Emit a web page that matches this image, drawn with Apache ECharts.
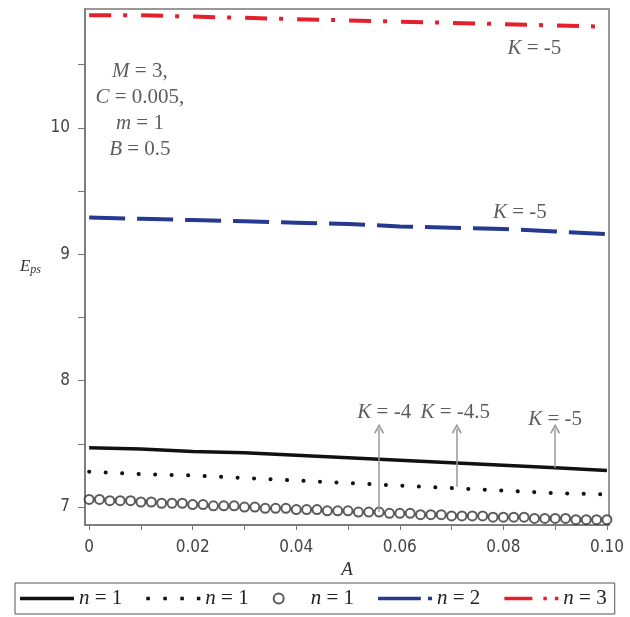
<!DOCTYPE html>
<html>
<head>
<meta charset="utf-8">
<script src="https://cdn.jsdelivr.net/npm/echarts@6/dist/echarts.min.js"></script>
<style>
html, body { margin: 0; padding: 0; background: #fff; }
#chart { width: 630px; height: 617px; }
</style>
</head>
<body>
<div id="chart"></div>
<script>
// A values for the line curves
var aValues = [0, 0.01, 0.02, 0.03, 0.04, 0.05, 0.06, 0.07, 0.08, 0.09, 0.10];
var epsSolid = [7.47, 7.46, 7.44, 7.43, 7.41, 7.39, 7.37, 7.35, 7.33, 7.31, 7.29];   // n=1, K=-4
var epsDotted = [7.28, 7.26, 7.25, 7.23, 7.21, 7.19, 7.17, 7.15, 7.13, 7.11, 7.10];  // n=1, K=-4.5
var epsN2 = [9.29, 9.28, 9.27, 9.26, 9.25, 9.24, 9.22, 9.21, 9.20, 9.18, 9.16];
var epsN3 = [10.89, 10.89, 10.88, 10.87, 10.86, 10.85, 10.84, 10.83, 10.82, 10.81, 10.80];

// circle series (n=1, K=-5), plotted more densely
var circleA = [0, 0.002, 0.004, 0.006, 0.008, 0.010, 0.012, 0.014, 0.016, 0.018,
  0.020, 0.022, 0.024, 0.026, 0.028, 0.030, 0.032, 0.034, 0.036, 0.038,
  0.040, 0.042, 0.044, 0.046, 0.048, 0.050, 0.052, 0.054, 0.056, 0.058,
  0.060, 0.062, 0.064, 0.066, 0.068, 0.070, 0.072, 0.074, 0.076, 0.078,
  0.080, 0.082, 0.084, 0.086, 0.088, 0.090, 0.092, 0.094, 0.096, 0.098, 0.100];
var circleEps = [7.06, 7.06, 7.05, 7.05, 7.05, 7.04, 7.04, 7.03, 7.03, 7.03,
  7.02, 7.02, 7.01, 7.01, 7.01, 7.00, 7.00, 6.99, 6.99, 6.99,
  6.98, 6.98, 6.98, 6.97, 6.97, 6.97, 6.96, 6.96, 6.96, 6.95,
  6.95, 6.95, 6.94, 6.94, 6.94, 6.93, 6.93, 6.93, 6.93, 6.92,
  6.92, 6.92, 6.92, 6.91, 6.91, 6.91, 6.91, 6.90, 6.90, 6.90, 6.90];

var xLabelValues = [0, 0.02, 0.04, 0.06, 0.08, 0.10];
var xTickValues = [0, 0.01, 0.02, 0.03, 0.04, 0.05, 0.06, 0.07, 0.08, 0.09, 0.10];
var yLabelValues = [7, 8, 9, 10];
var yTickValues = [7, 7.5, 8, 8.5, 9, 9.5, 10, 10.5];

// arrows: [A, from, to]
var arrows = [[0.056, 6.96, 7.62], [0.071, 7.16, 7.62], [0.090, 7.31, 7.62]];
// text notes: [A, Eps, text]
var notes = [
  [0.0098, 10.14, '{i|M} = 3,\n{i|C} = 0.005,\n{i|m} = 1\n{i|B} = 0.5'],
  [0.0570, 7.75, '{i|K} = -4'],
  [0.0707, 7.75, '{i|K} = -4.5'],
  [0.0900, 7.69, '{i|K} = -5'],
  [0.0832, 9.33, '{i|K} = -5'],
  [0.0860, 10.63, '{i|K} = -5']
];

var legendText = {
  s1: '{i|n} = 1', s2: '{i|n} = 1', s3: '{i|n} = 1', s4: '{i|n} = 2', s5: '{i|n} = 3'
};
var legendIcons = {
  s1: 'path://M0,0h54v3.5h-54z',
  s2: 'path://M0,0h3.5v3.5h-3.5z M17,0h3.5v3.5h-3.5z M34,0h3.5v3.5h-3.5z M50.5,0h3.5v3.5h-3.5z',
  s3: 'emptyCircle',
  s4: 'path://M0,0h42v3.5h-42z M49,0h4v3.5h-4z',
  s5: 'path://M0,0h28v3.5h-28z M39,0h3.5v3.5h-3.5z M50.5,0h3.5v3.5h-3.5z'
};

function pairs(xs, ys) {
  return xs.map(function (x, i) { return [x, ys[i]]; });
}

var serifFont = 'Liberation Serif';
var tickFont = '"Liberation Sans Narrow", "DejaVu Sans Condensed", sans-serif';

var dom = document.getElementById('chart');
var myChart = echarts.init(dom, null, { renderer: 'canvas' });

var option = {
  animation: false,
  grid: {
    left: 85, right: 21, top: 9, bottom: 92,
    show: true, borderColor: '#777', borderWidth: 1.5
  },
  xAxis: {
    type: 'value',
    min: -0.0008, max: 0.1004,
    name: 'A',
    nameLocation: 'middle',
    nameGap: 32,
    nameTextStyle: { fontFamily: serifFont, fontStyle: 'italic', fontSize: 19, color: '#333' },
    axisLine: { onZero: false, lineStyle: { color: '#777', width: 1.5 } },
    axisTick: { show: true, length: 5, customValues: xTickValues, lineStyle: { color: '#777' } },
    axisLabel: {
      customValues: xLabelValues,
      margin: 14,
      fontFamily: tickFont, fontSize: 17, color: '#444',
      formatter: function (v) { return v === 0 ? '0' : v.toFixed(2); }
    },
    splitLine: { show: false }
  },
  yAxis: {
    type: 'value',
    min: 6.858, max: 10.94,
    name: '{e|E}{s|ps}',
    nameLocation: 'middle',
    nameRotate: 0,
    nameGap: 44,
    nameTextStyle: {
      color: '#333',
      rich: {
        e: { fontFamily: serifFont, fontStyle: 'italic', fontSize: 17, color: '#333' },
        s: { fontFamily: serifFont, fontStyle: 'italic', fontSize: 12, color: '#333', padding: [6, 0, 0, 0] }
      }
    },
    axisLine: { show: true, onZero: false, lineStyle: { color: '#777', width: 1.5 } },
    axisTick: { show: true, length: 7, customValues: yTickValues, lineStyle: { color: '#777' } },
    axisLabel: {
      customValues: yLabelValues,
      margin: 15,
      fontFamily: tickFont, fontSize: 17, color: '#444'
    },
    splitLine: { show: false }
  },
  legend: {
    bottom: 3, left: 15,
    data: ['s1', 's2', 's3', 's4', 's5'].map(function (n) {
      return { name: n, icon: legendIcons[n] };
    }),
    formatter: function (name) { return legendText[name]; },
    itemWidth: 54, itemHeight: 10, itemGap: 24,
    borderColor: '#555', borderWidth: 1, padding: [5, 8, 5, 5],
    textStyle: {
      fontFamily: serifFont, fontSize: 21, color: '#222',
      rich: { i: { fontStyle: 'italic', fontFamily: serifFont, fontSize: 21, color: '#222' } }
    }
  },
  series: [
    {
      name: 's1', type: 'line', symbol: 'none',
      data: pairs(aValues, epsSolid),
      lineStyle: { color: '#111', width: 3.5 },
      itemStyle: { color: '#111' }
    },
    {
      name: 's2', type: 'line', symbol: 'none',
      data: pairs(aValues, epsDotted),
      lineStyle: { color: '#111', width: 4, type: [0.1, 16.4], cap: 'round' },
      itemStyle: { color: '#111' }
    },
    {
      name: 's3', type: 'scatter', symbol: 'emptyCircle', symbolSize: 9,
      data: pairs(circleA, circleEps),
      itemStyle: { color: '#333', borderWidth: 1.3 }
    },
    {
      name: 's4', type: 'line', symbol: 'none',
      data: pairs(aValues, epsN2),
      lineStyle: { color: '#24398f', width: 4, type: [36, 12] },
      itemStyle: { color: '#24398f' }
    },
    {
      name: 's5', type: 'line', symbol: 'none',
      data: pairs(aValues, epsN3),
      lineStyle: { color: '#e3202b', width: 4, type: [22, 12, 4, 14] },
      itemStyle: { color: '#e3202b' }
    },
    {
      name: 'arrows', type: 'line', data: [], symbol: 'none',
      markLine: {
        silent: true,
        symbol: ['none', 'path://M0,9 L5,0 L10,9 L8.6,9.8 L5,3.2 L1.4,9.8 Z'],
        symbolSize: [10, 10],
        label: { show: false },
        lineStyle: { color: '#999', width: 1.5, type: 'solid' },
        data: arrows.map(function (a) {
          return [{ coord: [a[0], a[1]] }, { coord: [a[0], a[2]] }];
        })
      }
    },
    {
      name: 'notes', type: 'scatter', symbolSize: 0,
      data: notes,
      label: {
        show: true, position: 'inside', align: 'center',
        formatter: function (p) { return p.data[2]; },
        fontFamily: serifFont, fontSize: 21, lineHeight: 26, color: '#333',
        rich: { i: { fontStyle: 'italic', fontFamily: serifFont, fontSize: 21, lineHeight: 26, color: '#333' } }
      }
    }
  ]
};

if (option && typeof option === 'object') {
  myChart.setOption(option);
}

window.addEventListener('resize', myChart.resize);
</script>
</body>
</html>
